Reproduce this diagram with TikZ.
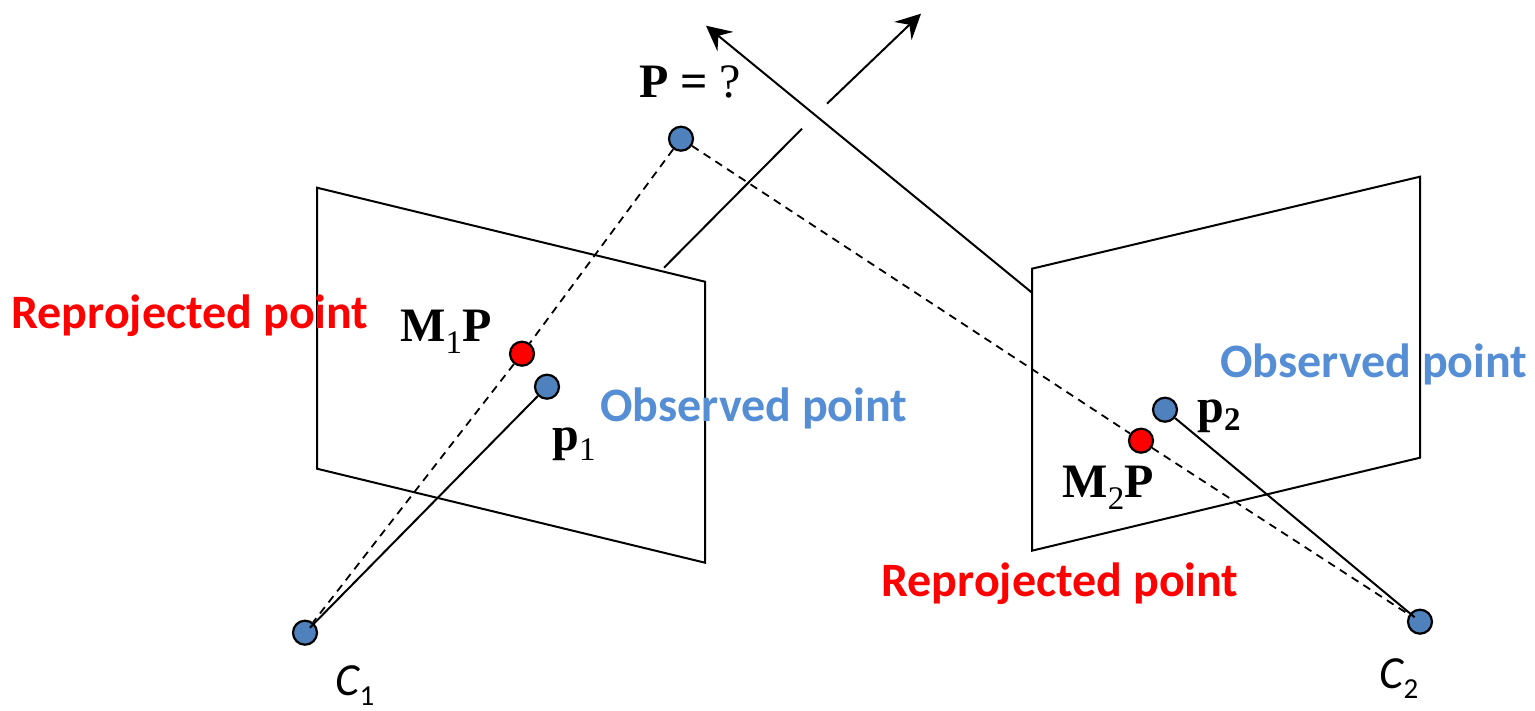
\documentclass[tikz,border=0pt]{standalone}
\usepackage{fontspec}
\setmainfont{Liberation Serif}
\newfontfamily\calibri{Carlito}
\usetikzlibrary{arrows.meta,backgrounds}
\definecolor{dotblue}{HTML}{4F81BD}
\definecolor{obsblue}{HTML}{558ED5}
\tikzset{
  x=1pt,y=-1pt,
  dot/.style={circle,draw=black,line width=2.2pt,minimum size=24pt,inner sep=0pt,fill=dotblue},
  reddot/.style={dot,fill=red},
  edge/.style={line width=2pt,black},
  dashedge/.style={line width=1.8pt,black,dash pattern=on 8pt off 6pt},
  arrowedge/.style={edge,-{Stealth[length=25pt,width=25pt,inset=9pt]}},
  redlabel/.style={font=\calibri\bfseries\fontsize{48}{50}\selectfont,text=red,inner sep=0pt,anchor=base},
  bluelabel/.style={font=\calibri\bfseries\fontsize{48}{50}\selectfont,text=obsblue,inner sep=0pt,anchor=base},
  mathlabel/.style={font=\fontsize{48}{50}\selectfont,inner sep=0pt,anchor=base},
  camlabel/.style={font=\calibri\fontsize{46}{48}\selectfont,inner sep=0pt,anchor=base},
}
\newcommand{\lowsub}[2][-12pt]{\raisebox{#1}{\fontsize{33}{35}\selectfont\mdseries #2}}
\begin{document}
\begin{tikzpicture}
\useasboundingbox (0,-0.7) rectangle (1535,710.3);
% points
\node[dot] (P) at (681,138) {};
\node[reddot] (R1) at (522,353) {};
\node[dot] (p1) at (547,386) {};
\node[dot] (C1) at (305,632) {};
\node[dot] (p2) at (1165,409) {};
\node[reddot] (R2) at (1141,440) {};
\node[dot] (C2) at (1420,621) {};
% free ends
\coordinate (A1) at (317,187);
\coordinate (A2) at (705,281);
\coordinate (A3) at (705,562);
\coordinate (A4) at (317,468);
\coordinate (B1) at (1032,268);
\coordinate (B2) at (1420,176);
\coordinate (B3) at (1420,457);
\coordinate (B4) at (1032,550);
\coordinate (U1) at (664,267);
\coordinate (U2) at (802,128);
\coordinate (U3) at (827,103);
\coordinate (U4) at (921,13);
\coordinate (V1) at (1032,292);
\coordinate (V2) at (706,25);
% image planes
\draw[edge,line join=miter] (A1) -- (A2) -- (A3) -- (A4) -- cycle;
\draw[edge,line join=miter] (B1) -- (B2) -- (B3) -- (B4) -- cycle;
% optical axes
\draw[edge] (U1) -- (U2);
\draw[arrowedge] (U3) -- (U4);
\draw[arrowedge] (V1) -- (V2);
% rays
\begin{scope}[on background layer]
\draw[dashedge] (P) -- (R1);
\draw[dashedge] (R1) -- (C1);
\draw[dashedge] (P) -- (R2);
\draw[dashedge] (R2) -- (C2);
\end{scope}
\draw[edge,shorten >=7pt] (p1) -- (C1.center);
\draw[edge,shorten >=7pt] (p2) -- (C2.center);
% labels
\node[mathlabel] (tP) at (690,96.5) {\textbf{P =} ?};
\node[mathlabel] (tM1) at (446,341) {\textbf{M}\lowsub{1}\textbf{P}};
\node[mathlabel] (tp1) at (574,450) {\textbf{p}\lowsub[-10pt]{1}};
\node[mathlabel] (tM2) at (1108,497) {\textbf{M}\lowsub{2}\textbf{P}};
\node[mathlabel] (tp2) at (1219,422) {\textbf{p\lowsub[-8pt]{\textbf{2}}}};
\node[redlabel] (r1) at (190,328) {Reprojected point};
\node[redlabel] (r2) at (1060,596) {Reprojected point};
\node[bluelabel] (o1) at (754,421) {Observed point};
\node[bluelabel] (o2) at (1374,377) {Observed point};
\node[camlabel] (c1) at (355,695) {\itshape C\raisebox{-10pt}{\fontsize{29}{30}\selectfont\upshape 1}};
\node[camlabel] (c2) at (1399,688) {\itshape C\raisebox{-10pt}{\fontsize{29}{30}\selectfont\upshape 2}};
\end{tikzpicture}
\end{document}
